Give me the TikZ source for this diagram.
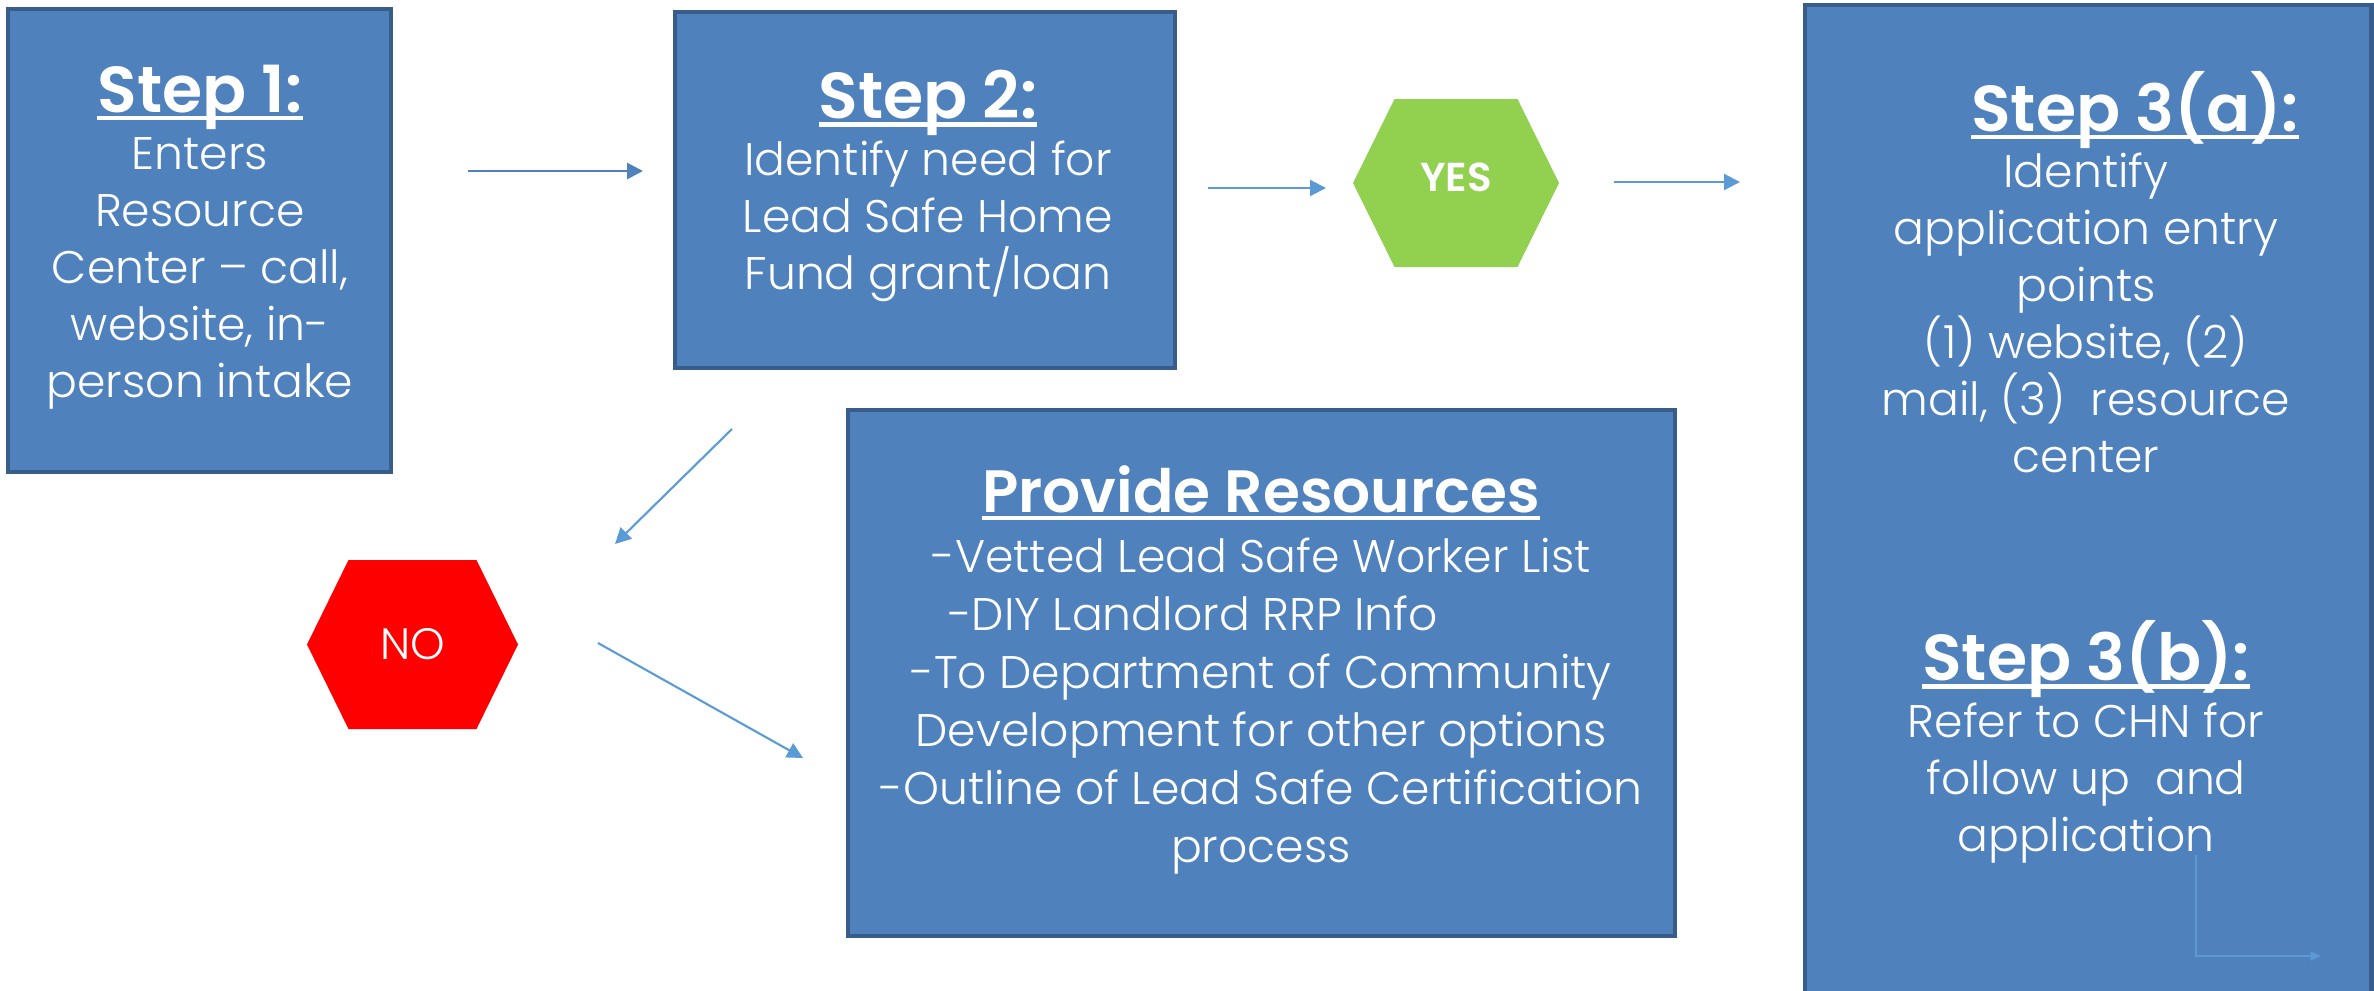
\documentclass[tikz,border=0pt]{standalone}
\usepackage{fontspec}
\setmainfont{Poppins}[UprightFont=* Light, BoldFont=* SemiBold]
\usetikzlibrary{arrows.meta}

\definecolor{boxblue}{HTML}{4F81BD}
\definecolor{boxedge}{HTML}{385D8A}
\definecolor{arrowblue}{HTML}{5B9BD5}
\definecolor{yesgreen}{HTML}{92D050}
\definecolor{nored}{HTML}{FF0000}

\newcommand\headul[1]{\setbox0\hbox{#1}\rlap{\rule[-0.12em]{\wd0}{0.065em}}\box0}
\newcommand\stephead[1]{{\fontsize{18.5}{16.2}\selectfont\bfseries\headul{#1}}}

\begin{document}
\begin{tikzpicture}[
    stepbox/.style={draw=boxedge, fill=boxblue, line width=1.4pt, inner sep=0pt},
    boxtext/.style={text=white, align=center, inner sep=0pt, font=\fontsize{13}{16.2}\selectfont},
    hexbox/.style={inner sep=0pt, text=white,
      path picture={\fill[#1] ([xshift=0.415cm]path picture bounding box.north west)
        -- ([xshift=-0.415cm]path picture bounding box.north east)
        -- (path picture bounding box.east)
        -- ([xshift=-0.415cm]path picture bounding box.south east)
        -- ([xshift=0.415cm]path picture bounding box.south west)
        -- (path picture bounding box.west) -- cycle;}},
    flow/.style={draw=arrowblue, line width=0.6pt, -{Triangle[length=4.5pt,width=4.5pt]}}
  ]
  \useasboundingbox (0,0) rectangle (23.74,-9.90);

  % boxes
  \node[stepbox, minimum width=3.83cm, minimum height=4.63cm] (s1) at (1.995,-2.405) {};
  \node[stepbox, minimum width=5.00cm, minimum height=3.56cm] (s2) at (9.25,-1.90) {};
  \node[stepbox, minimum width=8.27cm, minimum height=5.26cm] (res) at (12.615,-6.73) {};
  \node[stepbox, minimum width=5.66cm, minimum height=10.95cm] (s3) at (20.88,-5.525) {};

  % texts
  \node[boxtext] (t1) at (2.00,-2.37) {\stephead{Step 1:}\\
    Enters\\ Resource\\ Center -- call,\\ website, in-\\ person intake};
  \node[boxtext] (t2) at (9.28,-1.86) {\stephead{Step 2:}\\
    Identify need for\\ Lead Safe Home\\ Fund grant/loan};
  \node[boxtext] (tres) at (12.61,-6.70) {{\fontsize{17}{16.2}\selectfont\bfseries\headul{Provide Resources}}\\[1pt]
    -Vetted Lead Safe Worker List\\[0.3pt]
    -DIY Landlord RRP Info\rule{1.36cm}{0pt}\\[0.3pt]
    -To Department of Community\\[0.3pt]
    Development for other options\\[0.3pt]
    -Outline of Lead Safe Certification\\[0.3pt]
    process};
  \node[boxtext] (t3a) at (20.86,-2.72) {\rule{0.98cm}{0pt}\stephead{Step 3(a):}\\
    Identify\\ application entry\\ points\\ (1) website, (2)\\ mail, (3)\ \ resource\\ center};
  \node[boxtext] (t3b) at (20.86,-7.42) {\stephead{Step 3(b):}\\
    Refer to CHN for\\ follow up\ \ and\\ application};

  % decisions
  \node[hexbox=yesgreen, minimum width=2.06cm, minimum height=1.68cm,
    font=\fontsize{11.5}{14}\selectfont\bfseries] (yes) at (14.56,-1.83) {\raisebox{0.12cm}{YES}};
  \node[hexbox=nored, minimum width=2.11cm, minimum height=1.69cm,
    font=\fontsize{12.5}{14}\selectfont] (no) at (4.125,-6.445) {NO};

  % arrow ends
  \coordinate (a1s) at (4.68,-1.71);
  \coordinate (a1e) at (6.43,-1.71);
  \coordinate (a2s) at (12.08,-1.88);
  \coordinate (a2e) at (13.26,-1.88);
  \coordinate (a3s) at (16.14,-1.82);
  \coordinate (a3e) at (17.40,-1.82);
  \coordinate (a4s) at (7.32,-4.29);
  \coordinate (a4e) at (6.15,-5.44);
  \coordinate (a5s) at (5.98,-6.43);
  \coordinate (a5e) at (8.03,-7.58);
  \coordinate (cs) at (21.96,-8.55);
  \coordinate (ce) at (23.21,-9.56);

  \draw[flow, draw=boxblue, line width=0.8pt] (a1s) -- (a1e);
  \draw[flow] (a2s) -- (a2e);
  \draw[flow] (a3s) -- (a3e);
  \draw[flow] (a4s) -- (a4e);
  \draw[flow] (a5s) -- (a5e);
  \draw[flow, line width=0.4pt, -{Triangle[length=3pt,width=2.5pt]}] (cs) |- (ce);
\end{tikzpicture}
\end{document}
